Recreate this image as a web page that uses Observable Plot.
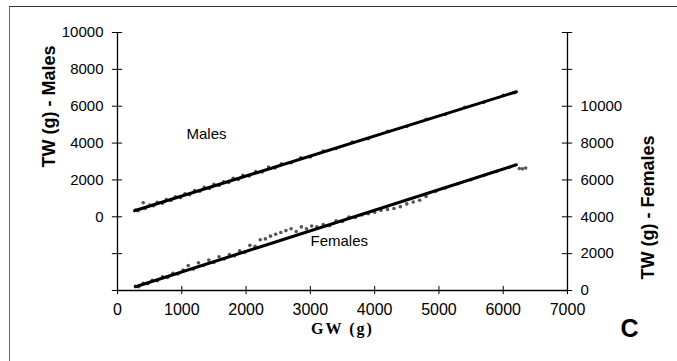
<!DOCTYPE html>
<html>
<head>
<meta charset="utf-8">
<script src="https://cdn.jsdelivr.net/npm/d3@7"></script>
<script src="https://cdn.jsdelivr.net/npm/@observablehq/plot@0.6"></script>
<style>
  html, body { margin: 0; padding: 0; background: #fff; }
  #chart { position: relative; width: 677px; height: 361px; overflow: hidden; }
  #edge { position: absolute; left: 9px; top: 6px; right: 0; bottom: 0;
          border-top: 1px solid #333; border-left: 1px solid #666; }
  #chart svg { position: absolute; left: 0; top: 0; }
</style>
</head>
<body>
<div id="chart"><div id="edge"></div></div>
<script>
// Gutted weight (GW) vs total weight (TW), males on the left axis, females on the right.
const maleGW = [280, 320, 400, 430, 500, 560, 620, 700, 760, 830, 900, 980, 1050, 1120, 1200, 1280, 1350, 1430, 1500, 1580, 1650, 1730, 1800, 1880, 1950, 2050, 2150, 2250, 2350, 2450, 2550, 2700, 2850, 3000, 3200, 3400, 3650, 3900, 4200, 4500, 4800, 5100, 5400, 5700, 6000, 6180];
const maleTW = [360, 330, 760, 450, 640, 600, 790, 740, 930, 880, 1090, 1040, 1250, 1200, 1420, 1390, 1600, 1540, 1760, 1700, 1900, 1860, 2090, 2020, 2250, 2210, 2460, 2430, 2700, 2650, 2880, 2930, 3200, 3250, 3570, 3700, 4050, 4240, 4640, 4900, 5290, 5550, 5940, 6210, 6590, 6740];

const femaleGW = [280, 330, 400, 470, 540, 620, 700, 780, 860, 940, 1020, 1100, 1180, 1260, 1340, 1420, 1500, 1580, 1660, 1740, 1820, 1900, 1980, 2060, 2140, 2220, 2300, 2380, 2460, 2540, 2620, 2700, 2780, 2860, 2940, 3020, 3100, 3200, 3300, 3400, 3500, 3600, 3700, 3800, 3900, 4000, 4100, 4200, 4300, 4400, 4500, 4600, 4700, 4800, 4950, 5100, 5300, 5500, 5700, 5900, 6100, 6250, 6300, 6350];
const femaleTW = [230, 200, 390, 370, 560, 530, 740, 710, 930, 900, 1110, 1350, 1160, 1500, 1360, 1650, 1520, 1830, 1710, 1950, 1880, 2150, 2060, 2450, 2400, 2750, 2800, 2950, 3050, 3150, 3250, 3350, 3200, 3450, 3350, 3500, 3450, 3580, 3520, 3780, 3750, 3980, 3960, 4100, 4170, 4250, 4350, 4400, 4450, 4550, 4700, 4800, 4900, 5100, 5380, 5560, 5790, 6010, 6240, 6460, 6690, 6620, 6600, 6650];

// Fitted lines (end points)
const maleFitGW = [265, 6205];
const maleFitTW = [325, 6782];
const femaleFitGW = [280, 6205];
const femaleFitTW = [202, 6821];

// Axes
const xTicks = [0, 1000, 2000, 3000, 4000, 5000, 6000, 7000];
const leftTicks = [-4000, -2000, 0, 2000, 4000, 6000, 8000, 10000];
const leftTickLabels = [0, 2000, 4000, 6000, 8000, 10000];
const rightTickLabels = [0, 2000, 4000, 6000, 8000, 10000];
const femaleOffset = 4000; // female axis zero sits at -4000 on the male axis

// In-plot labels
const seriesNames = ["Males", "Females"];
const seriesLabelGW = [1385, 3450];
const seriesLabelTW = [4500, 2700];

const xMin = 0, xMax = 7000, yMin = -4000, yMax = 10000;
const tickHalfX = 80;   // half-length of cross ticks on the vertical axes (GW units)
const tickHalfY = 220;  // half-length of cross ticks on the x axis (TW units)

const males = maleGW.map((gw, i) => ({gw, tw: maleTW[i]}));
const females = femaleGW.map((gw, i) => ({gw, tw: femaleTW[i] - femaleOffset}));
const maleFit = maleFitGW.map((gw, i) => ({gw, tw: maleFitTW[i]}));
const femaleFit = femaleFitGW.map((gw, i) => ({gw, tw: femaleFitTW[i] - femaleOffset}));
const labels = seriesNames.map((name, i) => ({
  name, gw: seriesLabelGW[i], tw: seriesLabelTW[i] - (name === "Females" ? femaleOffset : 0)
}));

const chart = Plot.plot({
  width: 677,
  height: 361,
  marginLeft: 117,
  marginRight: 110,
  marginTop: 32,
  marginBottom: 71,
  x: {domain: [xMin, xMax], axis: null},
  y: {domain: [yMin, yMax], axis: null},
  style: {fontFamily: "'Liberation Sans', Arial, sans-serif", fontSize: "15px", color: "#000", background: "transparent"},
  marks: [
    Plot.dot(males, {x: "gw", y: "tw", r: 1.8, fill: "#555", stroke: null}),
    Plot.dot(females, {x: "gw", y: "tw", r: 1.8, fill: "#555", stroke: null}),
    Plot.line(maleFit, {x: "gw", y: "tw", stroke: "#000", strokeWidth: 3}),
    Plot.line(femaleFit, {x: "gw", y: "tw", stroke: "#000", strokeWidth: 3}),
    // axis lines
    Plot.ruleX([xMin], {y1: yMin, y2: yMax, stroke: "#000", strokeWidth: 1.3}),
    Plot.ruleX([xMax], {y1: yMin, y2: yMax, stroke: "#000", strokeWidth: 1.3}),
    Plot.ruleY([yMin], {x1: xMin, x2: xMax, stroke: "#000", strokeWidth: 1.3}),
    // cross ticks
    Plot.ruleY(leftTicks, {y: d => d, x1: xMin - tickHalfX, x2: xMin + tickHalfX, stroke: "#000"}),
    Plot.ruleY(leftTicks, {y: d => d, x1: xMax - tickHalfX, x2: xMax + tickHalfX, stroke: "#000"}),
    Plot.ruleX(xTicks, {x: d => d, y1: yMin - tickHalfY, y2: yMin + tickHalfY, stroke: "#000"}),
    // tick labels
    Plot.axisY({anchor: "left", label: null, ticks: leftTickLabels, tickFormat: d => String(d), tickSize: 0, tickPadding: 14, fontSize: 15}),
    Plot.axisY({anchor: "right", label: null, ticks: rightTickLabels.map(v => v - femaleOffset), tickFormat: d => String(d + femaleOffset), tickSize: 0, tickPadding: 13, fontSize: 15}),
    Plot.axisX({anchor: "bottom", label: null, ticks: xTicks, tickFormat: d => String(d), tickSize: 0, tickPadding: 13, fontSize: 16}),
    // axis titles
    Plot.text(["TW (g) - Males"], {frameAnchor: "left", rotate: -90, dx: -68, dy: 6, fontSize: 18, fontWeight: "bold"}),
    Plot.text(["TW (g) - Females"], {frameAnchor: "right", rotate: -90, dx: 81, dy: -26, fontSize: 18, fontWeight: "bold"}),
    Plot.text(["GW (g)"], {frameAnchor: "bottom", dy: 43, fontSize: 16, fontWeight: "bold", fontFamily: "'Liberation Serif', 'Times New Roman', serif"}),
    Plot.text(["C"], {frameAnchor: "bottom-right", dx: 71, dy: 46, fontSize: 25, fontWeight: "bold"}),
    // series labels
    Plot.text(labels, {x: "gw", y: "tw", text: "name", fontSize: 15})
  ]
});

d3.select(chart).selectAll("text").filter(function () { return this.textContent === "GW (g)"; })
  .style("letter-spacing", "2px");

document.getElementById("chart").appendChild(chart);
</script>
</body>
</html>
